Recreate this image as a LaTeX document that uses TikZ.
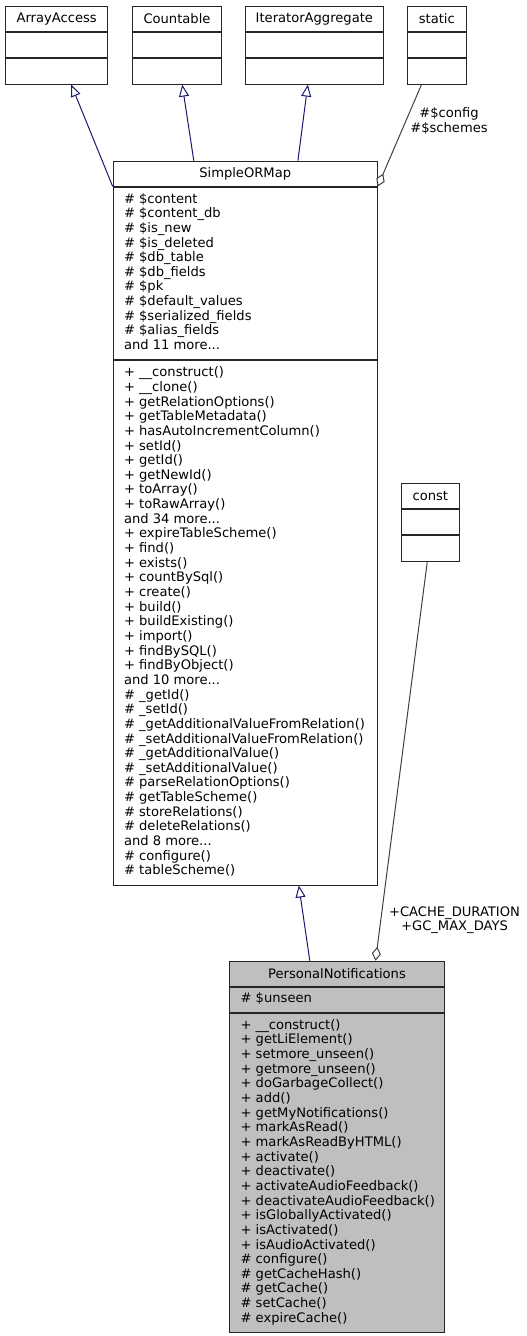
\documentclass[tikz,border=0pt]{standalone}
\usepackage{fontspec}
\setmainfont{DejaVu Sans}
\usetikzlibrary{arrows.meta,calc}
\definecolor{navyline}{HTML}{191970}
\definecolor{usegray}{HTML}{404040}
\definecolor{pnfill}{HTML}{BFBFBF}
\newcommand\seclines[2]{\makebox[#1][l]{\begin{tabular}{@{\hspace{10.8pt}}l@{}}#2\end{tabular}}}
\begin{document}
\begin{tikzpicture}[x=1pt,y=-1pt,
  box/.style={draw=black!85, line width=1pt, anchor=north west, inner ysep=0pt, inner xsep=0pt,
    font=\fontsize{13.1}{14.65}\selectfont},
  hd/.style={box, align=center},
  sect/.style={box},
  lbl/.style={align=center, inner sep=0pt, font=\fontsize{13.1}{14.8}\selectfont},
  inh/.style={draw=navyline, line width=1pt, -{Triangle[open, length=12pt, width=10pt, fill=white]}},
  use/.style={draw=usegray, line width=1pt, {Diamond[open, length=14pt, width=9pt, fill=white]}-},
]
\useasboundingbox (0,0) rectangle (527,1336);

% ArrayAccess
\node[hd, minimum width=102.3pt, minimum height=25.3pt] (aa) at (5,5.7) {ArrayAccess};
\node[box, minimum width=102.3pt, minimum height=25.3pt] (aa2) at (aa.south west) {};
\node[box, minimum width=102.3pt, minimum height=25.3pt] (aa3) at (aa2.south west) {};
% Countable
\node[hd, minimum width=88.4pt, minimum height=25.3pt] (co) at (132.3,5.7) {Countable};
\node[box, minimum width=88.4pt, minimum height=25.3pt] (co2) at (co.south west) {};
\node[box, minimum width=88.4pt, minimum height=25.3pt] (co3) at (co2.south west) {};
% IteratorAggregate
\node[hd, minimum width=137.7pt, minimum height=25.3pt] (ia) at (245,5.7) {IteratorAggregate};
\node[box, minimum width=137.7pt, minimum height=25.3pt] (ia2) at (ia.south west) {};
\node[box, minimum width=137.7pt, minimum height=25.3pt] (ia3) at (ia2.south west) {};
% static
\node[hd, minimum width=59.3pt, minimum height=25.3pt] (st) at (406.7,5.7) {static};
\node[box, minimum width=59.3pt, minimum height=25.3pt] (st2) at (st.south west) {};
\node[box, minimum width=59.3pt, minimum height=25.3pt] (st3) at (st2.south west) {};

% SimpleORMap
\node[hd, minimum width=264pt, minimum height=24.8pt] (sm) at (112.7,160.7) {SimpleORMap};
\node[sect, minimum width=264pt, minimum height=172.8pt] (sm2) at (sm.south west) {\seclines{264pt}{%
\# \$content\\
\# \$content\_db\\
\# \$is\_new\\
\# \$is\_deleted\\
\# \$db\_table\\
\# \$db\_fields\\
\# \$pk\\
\# \$default\_values\\
\# \$serialized\_fields\\
\# \$alias\_fields\\
and 11 more...}};
\node[sect, minimum width=264pt, minimum height=524.2pt] (sm3) at (sm2.south west) {\seclines{264pt}{%
+ \_\_construct()\\
+ \_\_clone()\\
+ getRelationOptions()\\
+ getTableMetadata()\\
+ hasAutoIncrementColumn()\\
+ setId()\\
+ getId()\\
+ getNewId()\\
+ toArray()\\
+ toRawArray()\\
and 34 more...\\
+ expireTableScheme()\\
+ find()\\
+ exists()\\
+ countBySql()\\
+ create()\\
+ build()\\
+ buildExisting()\\
+ import()\\
+ findBySQL()\\
+ findByObject()\\
and 10 more...\\
\# \_getId()\\
\# \_setId()\\
\# \_getAdditionalValueFromRelation()\\
\# \_setAdditionalValueFromRelation()\\
\# \_getAdditionalValue()\\
\# \_setAdditionalValue()\\
\# parseRelationOptions()\\
\# getTableScheme()\\
\# storeRelations()\\
\# deleteRelations()\\
and 8 more...\\
\# configure()\\
\# tableScheme()}};

% const
\node[hd, minimum width=58.3pt, minimum height=25pt] (cs) at (400.7,483.3) {const};
\node[box, minimum width=58.3pt, minimum height=25pt] (cs2) at (cs.south west) {};
\node[box, minimum width=58.3pt, minimum height=26pt] (cs3) at (cs2.south west) {};

% PersonalNotifications
\node[hd, fill=pnfill, minimum width=214.4pt, minimum height=25.3pt] (pn) at (229.3,960.7) {PersonalNotifications};
\node[sect, fill=pnfill, minimum width=214.4pt, minimum height=24.7pt] (pn2) at (pn.south west) {\seclines{214.4pt}{\# \$unseen}};
\node[sect, fill=pnfill, minimum width=214.4pt, minimum height=319.3pt] (pn3) at (pn2.south west) {\seclines{214.4pt}{%
+ \_\_construct()\\
+ getLiElement()\\
+ setmore\_unseen()\\
+ getmore\_unseen()\\
+ doGarbageCollect()\\
+ add()\\
+ getMyNotifications()\\
+ markAsRead()\\
+ markAsReadByHTML()\\
+ activate()\\
+ deactivate()\\
+ activateAudioFeedback()\\
+ deactivateAudioFeedback()\\
+ isGloballyActivated()\\
+ isActivated()\\
+ isAudioActivated()\\
\# configure()\\
\# getCacheHash()\\
\# getCache()\\
\# setCache()\\
\# expireCache()}};

% connectors
\draw[inh] (sm.south west) -- ([xshift=14.55pt]aa3.south);
\draw[inh] ([xshift=-51.4pt]sm.north) -- ([xshift=5.2pt]co3.south);
\draw[inh] ([xshift=52.7pt]sm.north) -- ([xshift=-6.55pt]ia3.south);
\draw[use] (sm.south east) -- ([xshift=-15.35pt]st3.south);
\node[lbl] (l1) at (449,121) {\#\$config\\\#\$schemes};
\draw[inh] ([xshift=-27.2pt]pn.north) -- ([xshift=53.6pt]sm3.south);
\draw[use] ([xshift=38.5pt]pn.north) -- ([xshift=-3.15pt]cs3.south);
\node[lbl] (l2) at (454.5,920.2) {+CACHE\_DURATION\\+GC\_MAX\_DAYS};
\end{tikzpicture}
\end{document}
